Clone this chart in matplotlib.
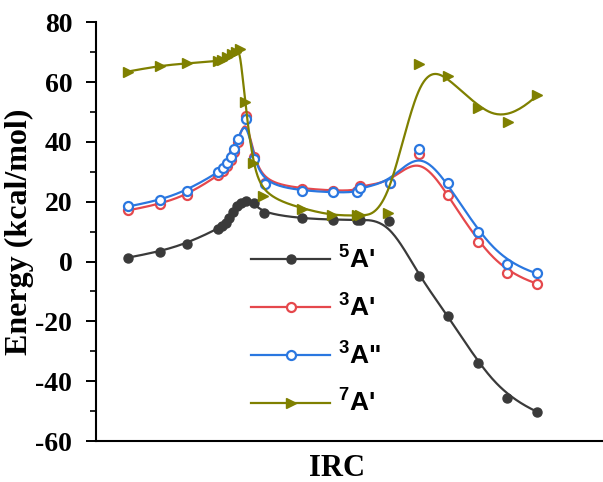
import numpy as np
import matplotlib
matplotlib.use("Agg")
import matplotlib.pyplot as plt
from matplotlib.ticker import MultipleLocator

plt.rcParams['font.family'] = 'Liberation Serif'
plt.rcParams['axes.unicode_minus'] = False
plt.rcParams['mathtext.fontset'] = 'custom'
plt.rcParams['mathtext.rm'] = 'Liberation Sans:bold'
plt.rcParams['mathtext.default'] = 'rm'

# reaction coordinate (arbitrary units, TS region near 0) and energies in kcal/mol
irc_5a1 = [-3.93, -2.87, -1.97, -0.93, -0.80, -0.67, -0.57, -0.43, -0.30, -0.17, 0.00,
           0.27, 0.60, 1.87, 2.90, 3.70, 3.80, 4.77, 5.77, 6.73, 7.73, 8.70, 9.70]
e_5a1 = [1.3, 3.3, 6.0, 11.0, 12.0, 13.0, 14.7, 16.4, 18.7, 19.7, 20.2,
         19.4, 16.1, 14.4, 14.0, 13.9, 13.9, 13.7, -5.0, -18.1, -33.8, -45.5, -50.2]

irc_3a = [-3.93, -2.87, -1.97, -0.93, -0.77, -0.63, -0.50, -0.40, -0.27, 0.00, 0.27,
          0.63, 1.87, 2.90, 3.70, 3.80, 4.80, 5.77, 6.73, 7.73, 8.70, 9.70]
e_3a1 = [17.1, 19.1, 22.1, 28.8, 30.1, 31.8, 33.8, 36.5, 40.0, 48.8, 34.8,
         26.4, 24.4, 23.7, 23.7, 25.4, 26.2, 35.8, 22.4, 6.4, -4.0, -7.4]
e_3a2 = [18.4, 20.4, 23.7, 29.8, 31.1, 32.8, 34.8, 37.5, 40.8, 47.8, 34.4,
         25.8, 23.7, 23.1, 23.1, 24.7, 26.4, 37.5, 26.1, 10.0, -0.7, -4.0]

irc_7a1 = [-3.93, -2.87, -1.97, -0.93, -0.80, -0.63, -0.47, -0.33, -0.20, -0.03, 0.23,
           0.57, 1.87, 2.87, 3.70, 3.80, 4.73, 5.77, 6.73, 7.73, 8.73, 9.70]
e_7a1 = [63.5, 65.5, 66.2, 67.0, 67.5, 68.3, 69.2, 70.0, 71.2, 53.2, 32.8,
         22.0, 17.7, 15.4, 15.4, 15.4, 16.1, 65.9, 61.9, 51.2, 46.5, 55.5]

labels = ["$^{5}$A'", "$^{3}$A'", '$^{3}$A"', "$^{7}$A'"]
colors = ["#3a3a3a", "#e5484c", "#2a77e0", "#7f8000"]


def bspline(x, y, n=600, k=3):
    # clamped cubic B-spline using the data points as control points
    pts = np.column_stack([x, y])
    m = len(pts)
    knots = np.concatenate([np.zeros(k), np.linspace(0, 1, m - k + 1), np.ones(k)])
    t = np.linspace(0, 1, n)
    B = np.zeros((n, len(knots) - 1))
    for i in range(len(knots) - 1):
        B[:, i] = (knots[i] <= t) & (t < knots[i + 1])
    B[t >= 1, m - 1] = 1
    for d in range(1, k + 1):
        Bn = np.zeros((n, len(knots) - 1 - d))
        for i in range(len(knots) - 1 - d):
            a = knots[i + d] - knots[i]
            b = knots[i + d + 1] - knots[i + 1]
            term = np.zeros(n)
            if a > 0:
                term += (t - knots[i]) / a * B[:, i]
            if b > 0:
                term += (knots[i + d + 1] - t) / b * B[:, i + 1]
            Bn[:, i] = term
        B = Bn
    c = B @ pts
    return c[:, 0], c[:, 1]


fig = plt.figure(figsize=(6.03, 4.82), dpi=100)
ax = fig.add_axes([0.159, 0.085, 0.841, 0.869])

series = [
    (irc_5a1, e_5a1, dict(marker='o', ms=6.5, mfc=colors[0], mec=colors[0])),
    (irc_3a, e_3a1, dict(marker='o', ms=6.5, mfc='white', mec=colors[1], mew=1.6)),
    (irc_3a, e_3a2, dict(marker='o', ms=6.5, mfc='white', mec=colors[2], mew=1.6)),
    (irc_7a1, e_7a1, dict(marker='>', ms=7.5, mfc=colors[3], mec=colors[3])),
]

for (x, y, mk), lab, col in zip(series, labels, colors):
    sx, sy = bspline(x, y)
    ax.plot(sx, sy, color=col, lw=1.6)
    ax.plot(x, y, ls='none', **mk)
    # legend proxy: line with a single marker
    ax.plot([], [], color=col, lw=1.6, label=lab, **mk)

ax.set_xlim(-5.0, 11.9)
ax.set_ylim(-60, 80)
ax.yaxis.set_major_locator(MultipleLocator(20))
ax.yaxis.set_minor_locator(MultipleLocator(10))
ax.set_xticks([])

for s in ['top', 'right']:
    ax.spines[s].set_visible(False)
for s in ['left', 'bottom']:
    ax.spines[s].set_linewidth(1.5)

ax.tick_params(axis='y', which='major', direction='out', length=7, width=1.4, pad=10,
               labelsize=20)
ax.tick_params(axis='y', which='minor', direction='out', length=4, width=1.2)
for tl in ax.get_yticklabels():
    tl.set_fontweight('bold')

ax.set_ylabel('Energy (kcal/mol)', fontsize=23, fontweight='bold', labelpad=0)
ax.yaxis.set_label_coords(-0.123, 0.5)
ax.set_xlabel('IRC', fontsize=22, fontweight='bold')
ax.xaxis.label.set_va('center')
ax.xaxis.set_label_coords(0.475, -0.066)

leg = ax.legend(loc='upper left', bbox_to_anchor=(0.285, 0.49), frameon=False,
                handlelength=3.0, handletextpad=0.3, labelspacing=0.78,
                numpoints=1, borderaxespad=0,
                prop={'family': 'Liberation Sans', 'weight': 'bold', 'size': 19})

fig.savefig('out.png', dpi=100)
